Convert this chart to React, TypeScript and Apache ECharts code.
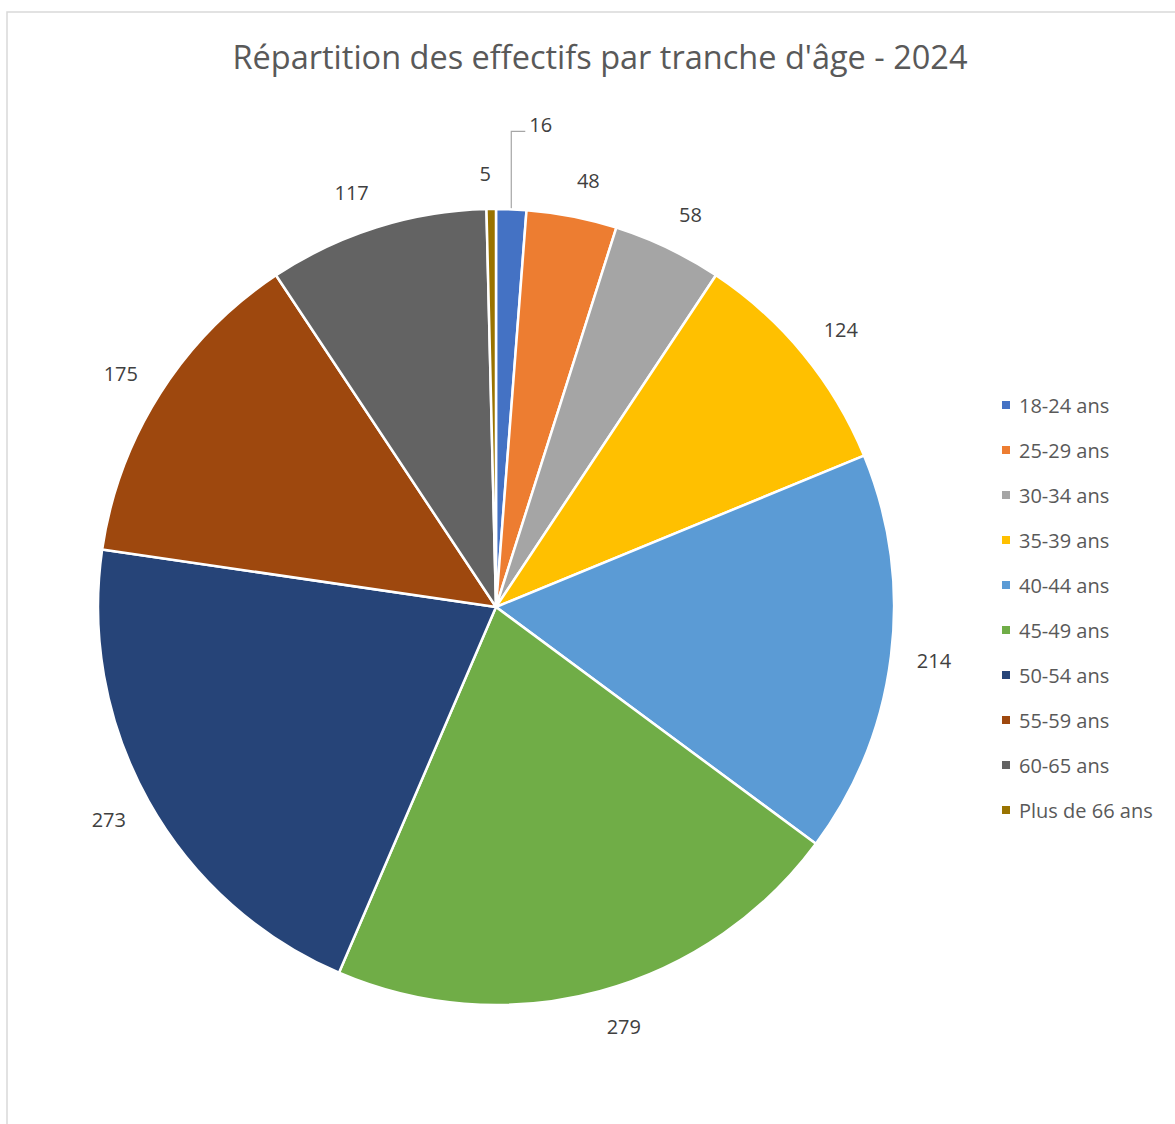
import React, { useEffect, useRef } from "react";
import * as echarts from "echarts";

const categories = [
  "18-24 ans",
  "25-29 ans",
  "30-34 ans",
  "35-39 ans",
  "40-44 ans",
  "45-49 ans",
  "50-54 ans",
  "55-59 ans",
  "60-65 ans",
  "Plus de 66 ans",
];
const values = [16, 48, 58, 124, 214, 279, 273, 175, 117, 5];
const colors = [
  "#4472C4",
  "#ED7D31",
  "#A5A5A5",
  "#FFC000",
  "#5B9BD5",
  "#70AD47",
  "#264478",
  "#9E480E",
  "#636363",
  "#997300",
];
const title = "Répartition des effectifs par tranche d'âge - 2024";

const FONT = "'Open Sans', Lato, sans-serif";
const CX = 496;
const CY = 607;
const R = 398;
const GAP = 26;

export default function App() {
  const ref = useRef<HTMLDivElement>(null);
  useEffect(() => {
    if (!ref.current) return;
    const chart = echarts.init(ref.current, null, { renderer: "svg" });
    const total = values.reduce((a, b) => a + b, 0);
    const mids: number[] = [];
    let acc = 0;
    values.forEach((v) => {
      mids.push(((acc + v / 2) / total) * Math.PI * 2);
      acc += v;
    });

    chart.setOption({
      animation: false,
      backgroundColor: "#ffffff",
      color: colors,
      title: {
        text: title,
        left: 595,
        top: 35,
        textAlign: "center",
        textStyle: {
          fontFamily: FONT,
          fontSize: 32.5,
          fontWeight: "normal",
          color: "#595959",
        },
      },
      graphic: [
        {
          type: "rect",
          shape: { x: 7, y: 12, width: 1400, height: 1400 },
          style: { fill: "none", stroke: "#d9d9d9", lineWidth: 1.5 },
          silent: true,
        },
      ],
      legend: {
        orient: "vertical",
        left: 995,
        top: 390,
        icon: "rect",
        itemWidth: 10,
        itemHeight: 10,
        itemGap: 25,
        data: categories,
        textStyle: {
          fontFamily: FONT,
          fontSize: 20,
          color: "#595959",
          lineHeight: 20,
          padding: [0, 0, 0, 3],
        },
      },
      series: [
        {
          type: "pie",
          center: [CX, CY],
          radius: [0, R],
          startAngle: 90,
          clockwise: true,
          avoidLabelOverlap: false,
          itemStyle: { borderColor: "#ffffff", borderWidth: 2.5 },
          label: {
            show: true,
            position: "outside",
            formatter: "{c}",
            fontFamily: FONT,
            fontSize: 20,
            color: "#404040",
          },
          labelLine: {
            show: true,
            lineStyle: { color: "#a6a6a6", width: 1.2 },
          },
          labelLayout: (params: any) => {
            const i = params.dataIndex;
            const th = mids[i];
            const s = Math.sin(th);
            const c = Math.cos(th);
            const w = params.labelRect.width;
            const h = params.labelRect.height;
            if (i === 0) {
              const ex = CX + R * s;
              const ey = CY - R * c;
              const ly = ey - 85;
              const lx = ex + 14;
              return {
                x: lx + 4 + w / 2,
                y: ly,
                align: "center",
                verticalAlign: "middle",
                labelLinePoints: [
                  [ex, ey + 1],
                  [ex, ly + 7],
                  [lx, ly + 7],
                ],
              };
            }
            const d = R + GAP;
            const m = Math.max(Math.abs(s), Math.abs(c));
            return {
              x: CX + d * s + Math.sign(s) * (w / 2),
              y: CY - d * c - (c / m) * (h / 2),
              align: "center",
              verticalAlign: "middle",
              labelLinePoints: [
                [CX, CY],
                [CX, CY],
                [CX, CY],
              ],
            };
          },
          data: categories.map((name, i) => ({
            name,
            value: values[i],
            labelLine: { show: i === 0 },
          })),
        },
      ],
    });
    return () => chart.dispose();
  }, []);
  return (
    <div
      ref={ref}
      style={{ position: "absolute", left: 0, top: 0, width: 1175, height: 1124 }}
    />
  );
}
